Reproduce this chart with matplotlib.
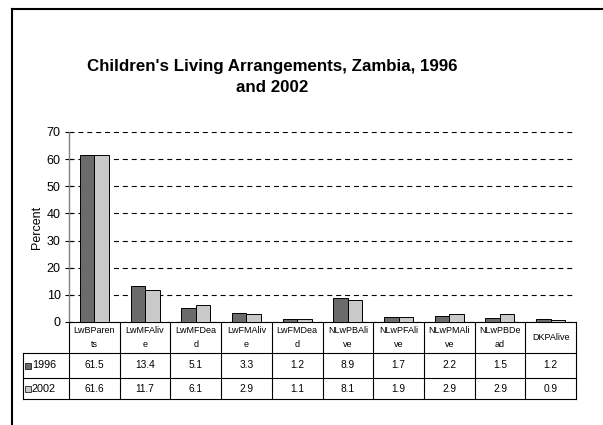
import matplotlib
matplotlib.use("Agg")
import matplotlib.pyplot as plt
import matplotlib.transforms as mtransforms
from matplotlib.lines import Line2D
import numpy as np

plt.rcParams['font.family'] = ['Liberation Sans', 'DejaVu Sans']

# Living arrangement categories (wrapped the way the table header shows them)
categories = ["LwBParents", "LwMFAlive", "LwMFDead", "LwFMAlive", "LwFMDead",
              "NLwPBAlive", "NLwPFAlive", "NLwPMAlive", "NLwPBDead", "DKPAlive"]
header_labels = ["LwBParen\nts", "LwMFAliv\ne", "LwMFDea\nd", "LwFMAliv\ne", "LwFMDea\nd",
                 "NLwPBAli\nve", "NLwPFAli\nve", "NLwPMAli\nve", "NLwPBDe\nad", "DKPAlive"]
years = ["1996", "2002"]
pct_1996 = [61.5, 13.4, 5.1, 3.3, 1.2, 8.9, 1.7, 2.2, 1.5, 1.2]
pct_2002 = [61.6, 11.7, 6.1, 2.9, 1.1, 8.1, 1.9, 2.9, 2.9, 0.9]
series = [pct_1996, pct_2002]
colors = ["#6b6b6b", "#c9c9c9"]

W, H = 603, 425
fig = plt.figure(figsize=(W / 100, H / 100), dpi=100)
fig.patch.set_facecolor("white")

# plot area in pixels: x 69..576, y 132..322
ax = fig.add_axes([69 / W, 1 - 322 / H, 507 / W, 190 / H])

x = np.arange(len(categories))
bw = 0.286
for i, (vals, c) in enumerate(zip(series, colors)):
    ax.bar(x + (i - 0.5) * bw, vals, width=bw, color=c, edgecolor="black",
           linewidth=0.7, zorder=3)

ax.set_xlim(-0.5, len(categories) - 0.5)
ax.set_ylim(0, 70)
ax.set_yticks(range(0, 71, 10))
ax.set_xticks([])
ax.yaxis.grid(True, color="black", linestyle=(0, (4.5, 3.5)), linewidth=0.8)
ax.set_axisbelow(True)
for s in ["top", "right"]:
    ax.spines[s].set_visible(False)
ax.spines["left"].set_color("#808080")
ax.spines["left"].set_linewidth(1.0)
ax.spines["bottom"].set_color("black")
ax.spines["bottom"].set_linewidth(0.8)
ax.tick_params(axis="y", direction="inout", length=6, width=0.8, color="black",
               labelsize=9, pad=3)
ax.set_ylabel("Percent", fontsize=9, labelpad=3)

# data table under the plot: x in data units, y in axes fraction
tr = mtransforms.blended_transform_factory(ax.transData, ax.transAxes)
px = 1 / 190.0
cat_w = 507 / len(categories)
y_head = -31 * px
y_r1 = -56 * px
y_r2 = -77 * px
x_left = -0.5 + (23 - 69) / cat_w
x_right = len(categories) - 0.5
lkw = dict(color="black", linewidth=0.8, transform=tr, clip_on=False)

for xb in np.arange(-0.5, len(categories), 1.0):
    ax.plot([xb, xb], [0, y_r2], **lkw)
ax.plot([x_left, x_left], [y_head, y_r2], **lkw)
for yy in [y_head, y_r1, y_r2]:
    ax.plot([x_left, x_right], [yy, yy], **lkw)

for i, lab in enumerate(header_labels):
    ax.text(i, y_head / 2, lab, ha="center", va="center", fontsize=6.5,
            linespacing=1.75, transform=tr)

row_centers = [(y_head + y_r1) / 2, (y_r1 + y_r2) / 2]
for yr, vals, c, yc in zip(years, series, colors, row_centers):
    for i, v in enumerate(vals):
        ax.text(i, yc, f"{v:.1f}", ha="center", va="center", fontsize=7.3,
                transform=tr)
    ax.plot([-0.5 + (28 - 69) / cat_w], [yc], marker="s", markersize=4.5,
            markerfacecolor=c, markeredgecolor="black", markeredgewidth=0.5,
            transform=tr, clip_on=False)
    ax.text(-0.5 + (32 - 69) / cat_w, yc, yr, ha="left", va="center",
            fontsize=7.8, transform=tr)

fig.text(272 / W, 1 - 77 / H, "Children's Living Arrangements, Zambia, 1996\nand 2002",
         ha="center", va="center", fontsize=12.2, fontweight="bold",
         linespacing=1.45)

# outer frame (left and top edges)
fig.add_artist(Line2D([12 / W, 12 / W], [0, 1 - 9 / H], color="black",
                      linewidth=1.5, transform=fig.transFigure))
fig.add_artist(Line2D([12 / W, 1], [1 - 9 / H, 1 - 9 / H], color="black",
                      linewidth=1.5, transform=fig.transFigure))

fig.savefig("out.png", dpi=100)
